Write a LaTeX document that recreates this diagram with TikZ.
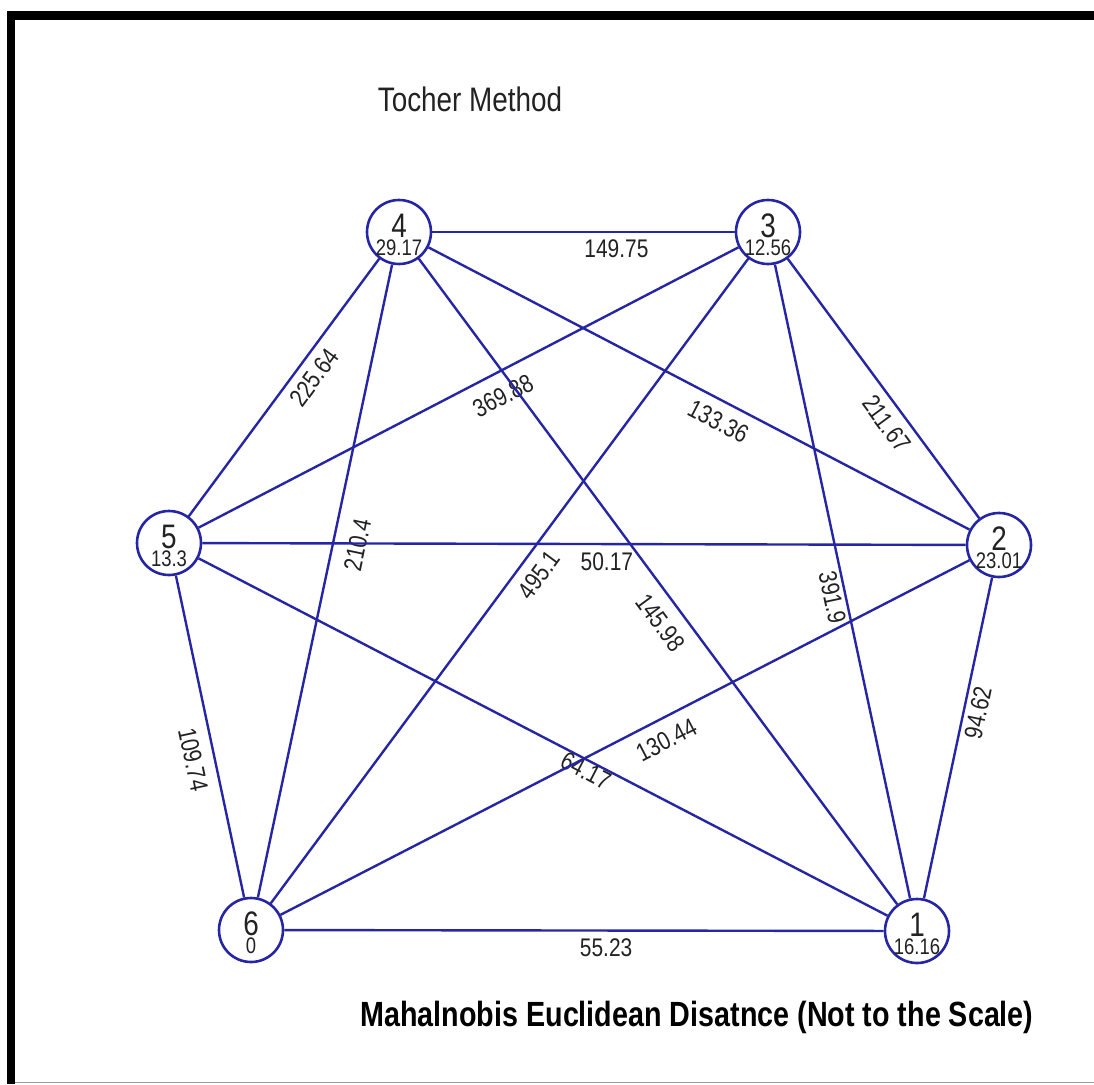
\documentclass[tikz,border=0pt]{standalone}
\usepackage{fontspec}
\setmainfont{Liberation Sans}[FakeStretch=0.82]
\definecolor{edgeblue}{RGB}{38,38,165}
\definecolor{txtgray}{RGB}{34,34,34}
\begin{document}
\begin{tikzpicture}[x=1pt,y=-1pt,
  vert/.style={circle, draw=edgeblue, line width=2.6pt, fill=white, minimum size=64pt, inner sep=0pt},
  numtxt/.style={font=\fontsize{34}{34}\selectfont, text=txtgray, inner sep=0pt},
  valtxt/.style={font=\fontsize{22.5}{22.5}\selectfont, text=txtgray, inner sep=0pt},
  edge/.style={draw=edgeblue, line width=2.4pt},
  elab/.style={sloped, anchor=north, inner xsep=1pt, inner ysep=#1, font=\fontsize{25.5}{25.5}\selectfont, text=txtgray},
  titletxt/.style={font=\fontsize{34}{34}\selectfont, text=txtgray, anchor=base, inner sep=0pt},
  subtxt/.style={font=\bfseries\fontsize{35}{35}\selectfont, text=black, anchor=base, inner sep=0pt}]
\useasboundingbox (0,0) rectangle (1094,1084);
% frame
\fill[black] (7,11) rectangle (1094,20);
\fill[black] (7,11) rectangle (15,1084);
\draw[black!40, line width=1.5pt] (15,1082.5) -- (1094,1082.5);
% vertices
\node[vert] (n1) at (917,931) {};
\node[vert] (n2) at (999,545) {};
\node[vert] (n3) at (768,232) {};
\node[vert] (n4) at (399,232) {};
\node[vert] (n5) at (169,543) {};
\node[vert] (n6) at (251,930) {};
% edges
\draw[edge] (n4) -- node[elab=6pt, pos=0.609] (l43) {149.75} (n3);
\draw[edge] (n4) -- node[elab=8pt, pos=0.419] (l45) {225.64} (n5);
\draw[edge] (n3) -- node[elab=13pt, pos=0.456] (l35) {369.88} (n5);
\draw[edge] (n4) -- node[elab=14pt, pos=0.435] (l46) {210.4} (n6);
\draw[edge] (n4) -- node[elab=12pt, pos=0.543] (l41) {145.98} (n1);
\draw[edge] (n4) -- node[elab=10pt, pos=0.553] (l42) {133.36} (n2);
\draw[edge] (n3) -- node[elab=10pt, pos=0.472] (l36) {495.1} (n6);
\draw[edge] (n3) -- node[elab=3pt, pos=0.521] (l31) {391.9} (n1);
\draw[edge] (n3) -- node[elab=8pt, pos=0.593] (l32) {211.67} (n2);
\draw[edge] (n5) -- node[elab=7pt, pos=0.530] (l52) {50.17} (n2);
\draw[edge] (n5) -- node[elab=0pt, pos=0.569] (l51) {64.17} (n1);
\draw[edge] (n6) -- node[elab=11pt, pos=0.546] (l62) {130.44} (n2);
\draw[edge] (n5) -- node[elab=11pt, pos=0.558] (l56) {109.74} (n6);
\draw[edge] (n2) -- node[elab=4pt, pos=0.412] (l21) {94.62} (n1);
\draw[edge] (n6) -- node[elab=7pt, pos=0.537] (l61) {55.23} (n1);
% vertex texts
\foreach \n/\v in {1/16.16, 2/23.01, 3/12.56, 4/29.17, 5/13.3, 6/0} {
  \node[numtxt] (t\n) at ([yshift=6pt]n\n.center) {\n};
  \node[valtxt] (v\n) at ([yshift=-15.5pt]n\n.center) {\v};
}
% titles
\node[titletxt] (title) at (470,111) {Tocher Method};
\node[subtxt] (sub) at (697,1026) {Mahalnobis Euclidean Disatnce (Not to the Scale)};
\end{tikzpicture}
\end{document}
